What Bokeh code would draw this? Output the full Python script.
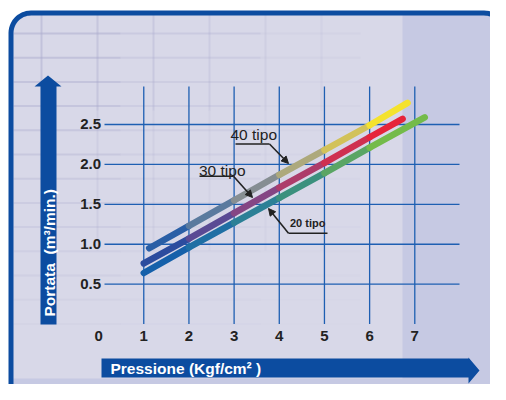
import numpy as np
from bokeh.plotting import figure
from bokeh.models import Range1d, Label, Arrow, NormalHead
from bokeh.core.properties import value
from bokeh.embed import file_html
from bokeh.resources import INLINE

# ---------------- data ----------------
pressure_ticks = [0, 1, 2, 3, 4, 5, 6, 7]
pressure_labels = ["0", "1", "2", "3", "4", "5", "6", "7"]
flow_ticks = [0.5, 1.0, 1.5, 2.0, 2.5]
flow_labels = ["0.5", "1.0", "1.5", "2.0", "2.5"]

tipo40_p = [1.12, 2, 3, 4, 5, 6, 6.84]
tipo40_q = [0.95, 1.23, 1.55, 1.87, 2.18, 2.49, 2.77]
tipo30_p = [1.0, 2, 3, 4, 5, 6, 6.73]
tipo30_q = [0.76, 1.07, 1.39, 1.71, 2.02, 2.34, 2.57]
tipo20_p = [1.0, 2, 3, 4, 5, 6, 7.22]
tipo20_q = [0.64, 0.96, 1.27, 1.58, 1.89, 2.21, 2.59]
series_names = ["40 tipo", "30 tipo", "20 tipo"]

x_title = "Pressione (Kgf/cm² )"
y_title = "Portata \u00a0(m³/min.)"

# ---------------- styles ----------------
grad40 = ["#2a5fa6", "#5a7a9e", "#868e92", "#ada97c", "#d2c25a", "#f4e22e"]
grad30 = ["#2c4c9e", "#5a4a94", "#854684", "#ad3c6a", "#cf3050", "#e6243a"]
grad20 = ["#1560aa", "#1f6fa4", "#2c8096", "#3c917e", "#5aa564", "#74bb4a"]

BLUE = "#0c4ca0"
GRID = "#1e5fb2"
FONT = "Liberation Sans"

W, H = 490, 384
X0, SX = 98.1, 45.17      # screen px of x=0, px per unit
Y0, SY = 323.6, 79.85     # screen py of y=0, px per unit


def X(px):
    return (px - X0) / SX


def Y(py):
    return (Y0 - py) / SY


p = figure(width=W, height=H, output_backend="svg", toolbar_location=None,
           x_range=Range1d(X(0), X(W)), y_range=Range1d(Y(H), Y(0)),
           x_axis_type=None, y_axis_type=None, min_border=0)
p.outline_line_color = None
p.background_fill_color = "white"
p.border_fill_color = "white"
p.grid.visible = False


def rounded(x0, y0, x1, y1, r, corners=(True, True, True, True)):
    # corners: top-left, top-right, bottom-right, bottom-left (screen px)
    pts = []
    specs = [((x0 + r, y0 + r), 180, 270, (x0, y0)),
             ((x1 - r, y0 + r), 270, 360, (x1, y0)),
             ((x1 - r, y1 - r), 0, 90, (x1, y1)),
             ((x0 + r, y1 - r), 90, 180, (x0, y1))]
    for use, (c, a0, a1, sharp) in zip(corners, specs):
        if use:
            for a in np.linspace(np.radians(a0), np.radians(a1), 14):
                pts.append((c[0] + r * np.cos(a), c[1] + r * np.sin(a)))
        else:
            pts.append(sharp)
    xs = [X(a) for a, b in pts]
    ys = [Y(b) for a, b in pts]
    return xs, ys


# panel background
xs, ys = rounded(10.5, 12.5, 503.5, 403, 20)
p.patch(xs, ys, fill_color="#c6c9e3", line_color=None)
xs2, ys2 = rounded(10.5, 12.5, 402, 378, 20, (True, False, False, False))
p.patch(xs2, ys2, fill_color="#d8d8e8", line_color=None)

# faint graph-paper lines
for k in range(13):
    yy = 33 + 24.2 * k
    a = max(0.0, 0.5 - 0.035 * k)
    p.line([X(13), X(120)], [Y(yy)] * 2, line_color="#a9a9cc", line_width=2, line_alpha=a)
    p.line([X(120), X(260)], [Y(yy)] * 2, line_color="#a9a9cc", line_width=2, line_alpha=a * 0.55)
    p.line([X(260), X(360)], [Y(yy)] * 2, line_color="#a9a9cc", line_width=2, line_alpha=a * 0.2)
for k, xx in enumerate([41, 97, 153, 209, 265, 321]):
    a = max(0.0, 0.45 - 0.065 * k)
    p.line([X(xx)] * 2, [Y(13), Y(110)], line_color="#a9a9cc", line_width=2, line_alpha=a)
    p.line([X(xx)] * 2, [Y(110), Y(250)], line_color="#a9a9cc", line_width=2, line_alpha=a * 0.5)

# border
p.patch(xs, ys, fill_color=None, line_color=BLUE, line_width=5)

# chart grid
p.segment(x0=[X(104)] * len(flow_ticks), y0=flow_ticks,
          x1=[X(459)] * len(flow_ticks), y1=flow_ticks,
          line_color=GRID, line_width=1.3)
vt = pressure_ticks[1:]
p.segment(x0=vt, y0=[0] * len(vt), x1=vt, y1=[Y(86)] * len(vt),
          line_color=GRID, line_width=1.3)

# series lines (coloured by segment)
for px_, qy_, cols in [(tipo20_p, tipo20_q, grad20),
                       (tipo30_p, tipo30_q, grad30),
                       (tipo40_p, tipo40_q, grad40)]:
    p.segment(x0=px_[:-1], y0=qy_[:-1], x1=px_[1:], y1=qy_[1:],
              line_color=cols, line_width=6.5, line_cap="round")

# tick labels
p.text(x=pressure_ticks, y=[Y(335.6)] * len(pressure_ticks), text=pressure_labels,
       text_font=value(FONT), text_font_style="bold", text_font_size="15px",
       text_color="#222222", text_align="center", text_baseline="middle")
p.text(x=[X(100.5)] * len(flow_ticks), y=flow_ticks, text=flow_labels,
       text_font=value(FONT), text_font_style="bold", text_font_size="15px",
       text_color="#222222", text_align="right", text_baseline="middle")

# axis arrows
ya = [(40, 324), (40, 86), (34, 86), (47.5, 75), (61, 86), (56, 86), (56, 324)]
p.patch([X(a) for a, b in ya], [Y(b) for a, b in ya], fill_color=BLUE, line_color=None)
xa = [(101, 358), (468, 358), (468, 357), (479, 370), (468, 383), (468, 377), (101, 377)]
p.patch([X(a) for a, b in xa], [Y(b) for a, b in xa], fill_color=BLUE, line_color=None)

p.add_layout(Label(x=X(48.5), y=Y(316), text=y_title, angle=np.pi / 2,
                   text_font=FONT, text_font_style="bold", text_font_size="15.5px",
                   text_color="white", text_align="left", text_baseline="middle"))
p.add_layout(Label(x=X(110), y=Y(367.5), text=x_title,
                   text_font=FONT, text_font_style="bold", text_font_size="15.5px",
                   text_color="white", text_align="left", text_baseline="middle"))

# series annotations
INK = "#222222"
p.add_layout(Label(x=X(230), y=Y(133.8), text=series_names[0], text_font=FONT,
                   text_font_size="15.5px", text_color=INK, text_baseline="middle"))
p.add_layout(Label(x=X(198.5), y=Y(169.5), text=series_names[1], text_font=FONT,
                   text_font_size="15.5px", text_color=INK, text_baseline="middle"))
p.add_layout(Label(x=X(289.5), y=Y(222.8), text=series_names[2], text_font=FONT,
                   text_font_style="bold", text_font_size="11px", text_color=INK,
                   text_baseline="middle"))

p.line([X(235), X(269)], [Y(143.5)] * 2, line_color=INK, line_width=1.6)
p.line([X(199), X(233)], [Y(175.8)] * 2, line_color=INK, line_width=1.6)
p.line([X(288), X(327)], [Y(232.7)] * 2, line_color=INK, line_width=1.6)

for (sx, sy, ex, ey) in [(269, 143.5, 288, 163), (233, 175.8, 252, 197), (288, 232.7, 268, 208)]:
    p.add_layout(Arrow(x_start=X(sx), y_start=Y(sy), x_end=X(ex), y_end=Y(ey),
                       line_color=INK, line_width=1.6,
                       end=NormalHead(size=7, fill_color=INK, line_color=INK)))

open("out.html", "w").write(file_html(p, INLINE))
